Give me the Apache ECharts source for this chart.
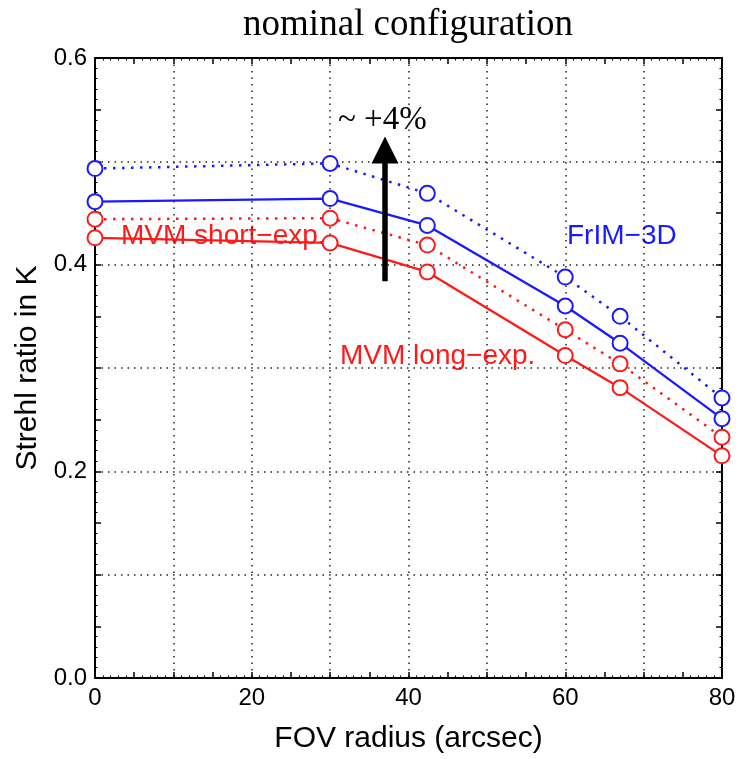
<!DOCTYPE html>
<html>
<head>
<meta charset="utf-8">
<script src="https://cdn.jsdelivr.net/npm/echarts@6/dist/echarts.min.js"></script>
<style>
	html, body { margin: 0; padding: 0; background: #fff; }
	#main { width: 742px; height: 759px; }
</style>
</head>
<body>
<div id="main"></div>
<script>
// FOV radius (arcsec) of each sample
var fovRadius = [0, 30, 42.4, 60, 67, 80]
// Strehl ratio in K
var frim3dShort = [0.493, 0.498, 0.469, 0.388, 0.350, 0.271]
var frim3dLong = [0.461, 0.464, 0.438, 0.360, 0.324, 0.251]
var mvmShort = [0.444, 0.445, 0.419, 0.337, 0.304, 0.233]
var mvmLong = [0.426, 0.421, 0.393, 0.312, 0.281, 0.215]
// arrow "~ +4%"
var arrowFrom = [37, 0.384]
var arrowTo = [37, 0.511]

var xTickLabels = [0, 20, 40, 60, 80]
var yTickLabels = [0.0, 0.2, 0.4, 0.6]

var BLUE = '#1a1aff'
var RED = '#ff1a1a'
var FONT = 'Liberation Sans'

function pairs(xs, ys) {
	return xs.map(function (x, i) {
		return [x, ys[i]]
	})
}

function drawChart(chartDom) {
	var myChart = echarts.init(chartDom)
	var gridDots = { show: true, lineStyle: { color: '#222', width: 1.5, type: [1.5, 5] } }
	var frame = { show: true, onZero: false, lineStyle: { color: '#000', width: 2 } }

	function xAx(position, withLabels, withGrid) {
		return {
			type: 'value',
			position: position,
			min: 0,
			max: 80,
			interval: withGrid ? 10 : 5,
			axisLine: withGrid ? { show: false } : frame,
			axisTick: { show: !withGrid, inside: true, length: 6, lineStyle: { color: '#000', width: 1.5 } },
			minorTick: { show: !withGrid, splitNumber: 5, length: 2.5, lineStyle: { color: '#000', width: 1 } },
			axisLabel: {
				show: withLabels,
				margin: 8,
				color: '#000',
				fontFamily: FONT,
				fontSize: 24,
				formatter: function (v) {
					return xTickLabels.indexOf(v) >= 0 ? String(v) : ''
				},
			},
			splitLine: withGrid ? gridDots : { show: false },
			name: withLabels ? 'FOV radius (arcsec)' : '',
			nameLocation: 'middle',
			nameGap: 46,
			nameTextStyle: { color: '#000', fontFamily: FONT, fontSize: 30 },
		}
	}

	function yAx(position, withLabels, withGrid) {
		return {
			type: 'value',
			position: position,
			min: 0,
			max: 0.6,
			interval: withGrid ? 0.1 : 0.05,
			axisLine: withGrid ? { show: false } : frame,
			axisTick: { show: !withGrid, inside: true, length: 6, lineStyle: { color: '#000', width: 1.5 } },
			minorTick: { show: !withGrid, splitNumber: 5, length: 2.5, lineStyle: { color: '#000', width: 1 } },
			axisLabel: {
				show: withLabels,
				margin: 8,
				color: '#000',
				fontFamily: FONT,
				fontSize: 24,
				formatter: function (v) {
					for (var i = 0; i < yTickLabels.length; i++) {
						if (Math.abs(v - yTickLabels[i]) < 1e-6) return v.toFixed(1)
					}
					return ''
				},
			},
			splitLine: withGrid ? gridDots : { show: false },
			name: withLabels ? 'Strehl ratio in K' : '',
			nameLocation: 'middle',
			nameGap: 48,
			nameTextStyle: { color: '#000', fontFamily: FONT, fontSize: 30 },
		}
	}

	function lineSeries(name, ys, color, dotted) {
		return {
			name: name,
			type: 'line',
			xAxisIndex: 0,
			yAxisIndex: 0,
			data: pairs(fovRadius, ys),
			symbol: 'emptyCircle',
			symbolSize: 15,
			showAllSymbol: true,
			lineStyle: { color: color, width: dotted ? 2.5 : 2.3, type: dotted ? [2.5, 6.5] : 'solid' },
			itemStyle: { color: color, borderWidth: 1.5 },
			emphasis: { disabled: true },
			silent: true,
			z: 3,
		}
	}

	var series = [
		lineSeries('FrIM-3D short', frim3dShort, BLUE, true),
		lineSeries('FrIM-3D long', frim3dLong, BLUE, false),
		lineSeries('MVM short', mvmShort, RED, true),
		lineSeries('MVM long', mvmLong, RED, false),
	]
	series[0].markLine = {
		silent: true,
		symbol: ['none', 'triangle'],
		symbolSize: 27,
		label: { show: false },
		lineStyle: { color: '#000', width: 5.5, type: 'solid' },
		itemStyle: { color: '#000' },
		emphasis: { disabled: true },
		data: [[{ coord: arrowFrom }, { coord: arrowTo }]],
	}

	var option = {
		animation: false,
		backgroundColor: '#fff',
		title: {
			text: 'nominal configuration',
			left: 403,
			textAlign: 'center',
			top: 2,
			textStyle: { fontFamily: 'Liberation Serif', fontSize: 37, fontWeight: 'normal', color: '#000' },
		},
		grid: { left: 95, right: 20, top: 58, bottom: 75, containLabel: false },
		xAxis: [xAx('bottom', true, false), xAx('top', false, false), xAx('bottom', false, true)],
		yAxis: [yAx('left', true, false), yAx('right', false, false), yAx('left', false, true)],
		graphic: [
			{ type: 'text', left: 338, top: 104, style: { text: '~ +4%', font: '33px "Liberation Serif"', fill: '#000' } },
			{ type: 'text', left: 121, top: 222, style: { text: 'MVM short\u2212exp.', font: '28px "Liberation Sans"', fill: RED } },
			{ type: 'text', left: 340, top: 342, style: { text: 'MVM long\u2212exp.', font: '28px "Liberation Sans"', fill: RED } },
			{ type: 'text', left: 567, top: 222, style: { text: 'FrIM\u22123D', font: '28px "Liberation Sans"', fill: BLUE } },
		],
		series: series,
	}

	option && myChart.setOption(option)
}

drawChart(document.getElementById('main'))
</script>
</body>
</html>
